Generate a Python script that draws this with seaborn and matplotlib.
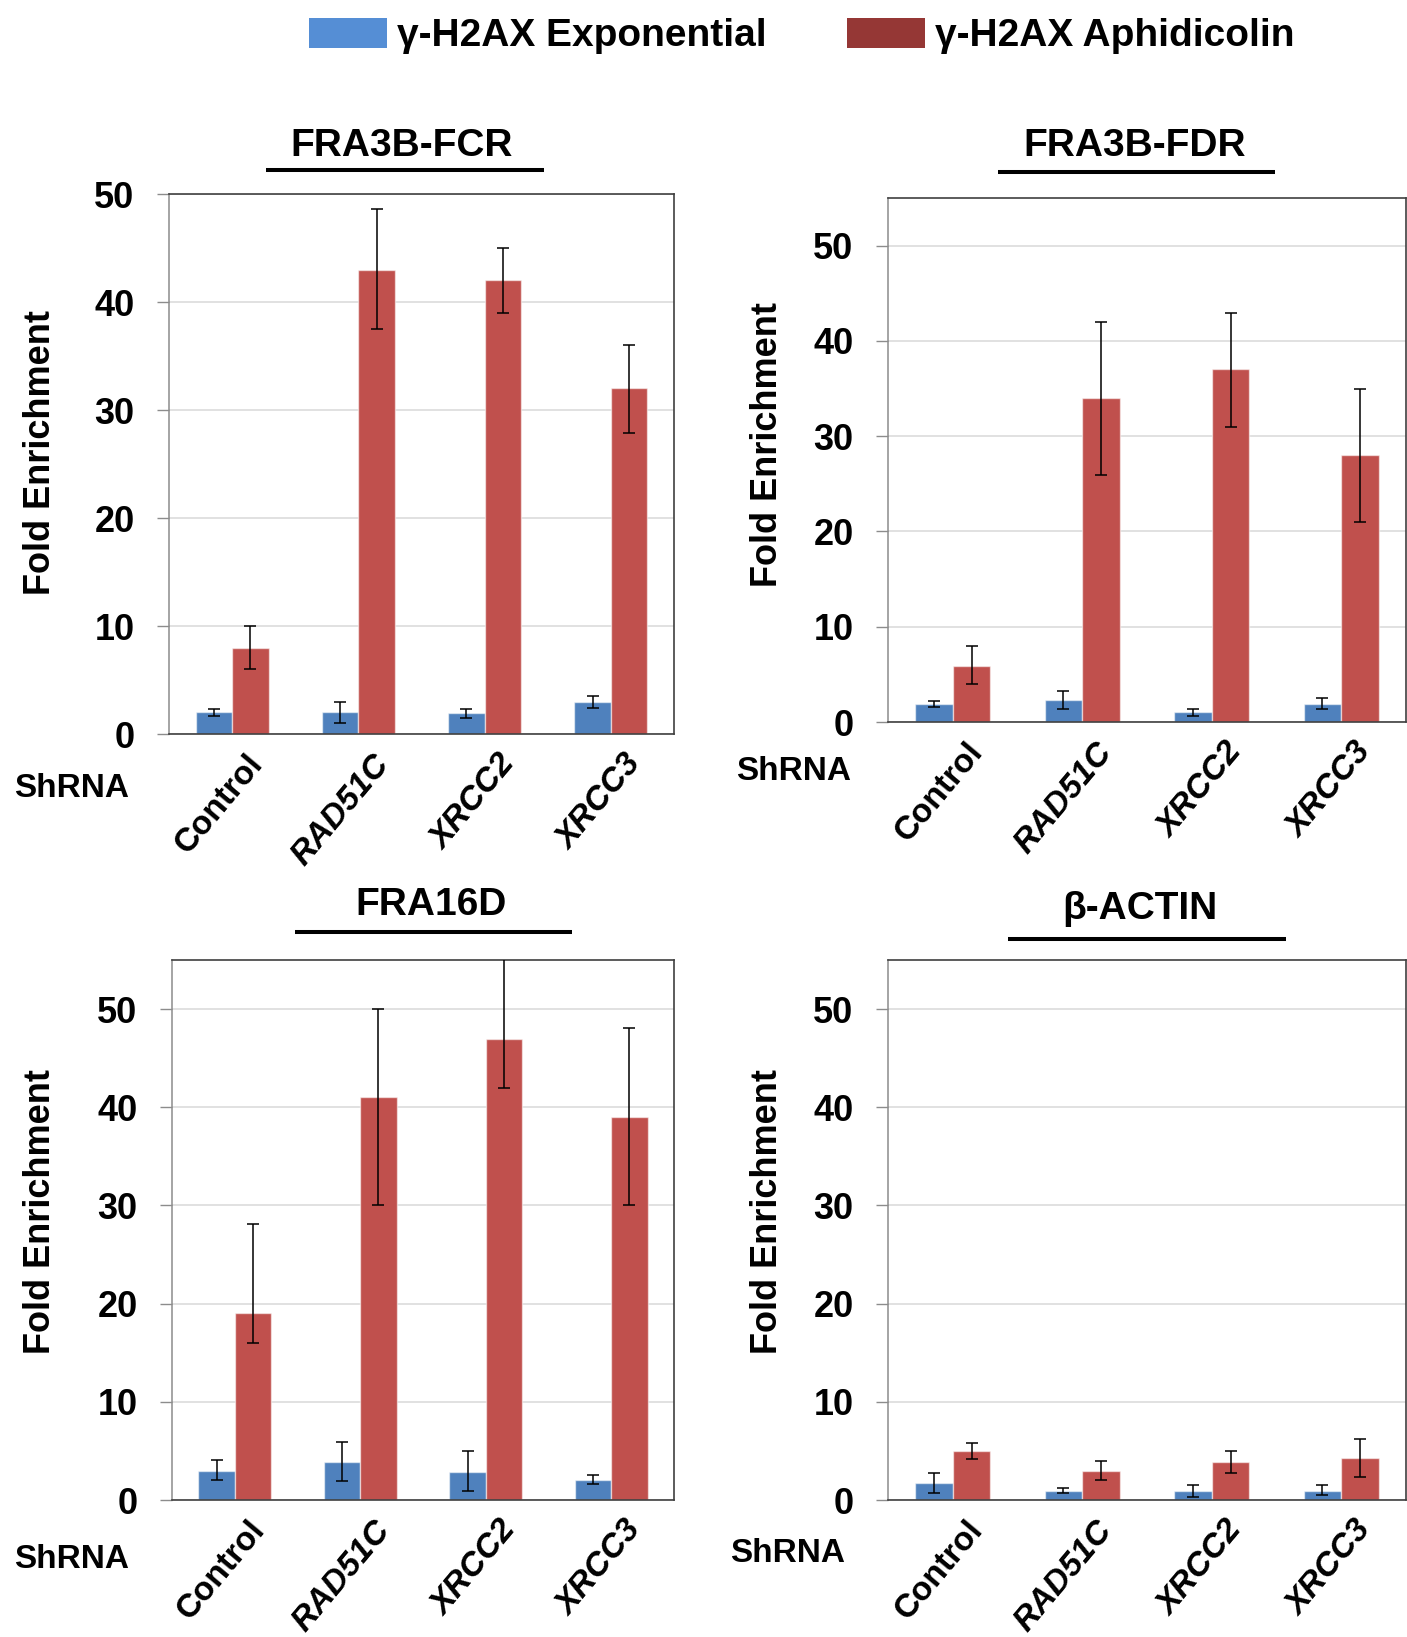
import numpy as np
import pandas as pd
import matplotlib
matplotlib.use("Agg")
import matplotlib.pyplot as plt
import matplotlib.transforms as mtransforms
from matplotlib import font_manager
from matplotlib.patches import Patch
from matplotlib.lines import Line2D
import seaborn as sns

# ---- data -------------------------------------------------------------
shrna = ["Control", "RAD51C", "XRCC2", "XRCC3"]
conditions = ["γ-H2AX Exponential", "γ-H2AX Aphidicolin"]

# FRA3B-FCR
fcr_exp = [2.0, 2.0, 1.9, 3.0]
fcr_exp_lo = [0.3, 1.0, 0.4, 0.55]
fcr_exp_hi = [0.3, 0.95, 0.45, 0.5]
fcr_aph = [8.0, 43.0, 42.0, 32.0]
fcr_aph_lo = [2.0, 5.5, 3.0, 4.1]
fcr_aph_hi = [2.0, 5.6, 3.0, 4.0]

# FRA3B-FDR
fdr_exp = [1.9, 2.3, 1.0, 1.9]
fdr_exp_lo = [0.3, 0.9, 0.4, 0.5]
fdr_exp_hi = [0.3, 1.0, 0.4, 0.6]
fdr_aph = [5.9, 34.0, 37.0, 28.0]
fdr_aph_lo = [1.9, 8.1, 6.0, 7.0]
fdr_aph_hi = [2.1, 8.0, 5.9, 7.0]

# FRA16D
f16_exp = [3.0, 3.9, 2.9, 2.0]
f16_exp_lo = [0.95, 2.0, 2.0, 0.4]
f16_exp_hi = [1.05, 2.0, 2.1, 0.5]
f16_aph = [19.0, 41.0, 47.0, 39.0]
f16_aph_lo = [3.0, 11.0, 5.0, 9.0]
f16_aph_hi = [9.1, 9.0, 9.0, 9.1]

# beta-actin
act_exp = [1.7, 0.9, 0.9, 0.9]
act_exp_lo = [0.95, 0.2, 0.55, 0.4]
act_exp_hi = [1.0, 0.35, 0.6, 0.6]
act_aph = [5.0, 3.0, 3.9, 4.3]
act_aph_lo = [0.85, 1.0, 1.1, 2.0]
act_aph_hi = [0.85, 1.0, 1.1, 1.9]

titles = ["FRA3B-FCR", "FRA3B-FDR", "FRA16D", "β-ACTIN"]
y_tops = [50, 55, 55, 55]
y_ticks = [0, 10, 20, 30, 40, 50]

bar_colors = ["#4F81BD", "#C0504D"]
legend_colors = ["#558ED5", "#953735"]

panels = [
    (fcr_exp, fcr_exp_lo, fcr_exp_hi, fcr_aph, fcr_aph_lo, fcr_aph_hi),
    (fdr_exp, fdr_exp_lo, fdr_exp_hi, fdr_aph, fdr_aph_lo, fdr_aph_hi),
    (f16_exp, f16_exp_lo, f16_exp_hi, f16_aph, f16_aph_lo, f16_aph_hi),
    (act_exp, act_exp_lo, act_exp_hi, act_aph, act_aph_lo, act_aph_hi),
]

# ---- style ------------------------------------------------------------
sns.set_theme(style="white")
installed = {f.name for f in font_manager.fontManager.ttflist}
if "Liberation Sans Narrow" in installed:
    families = ["Liberation Sans Narrow", "Liberation Sans", "DejaVu Sans"]
    fs = 1.22          # narrow face: larger size for the same text width
else:
    families = ["Liberation Sans", "DejaVu Sans"]
    fs = 1.0
plt.rcParams["font.family"] = families
plt.rcParams["font.weight"] = "bold"
for key in ["text.color", "axes.labelcolor", "xtick.color", "ytick.color"]:
    plt.rcParams[key] = "black"

W, H = 1407, 1637
DPI = 100
fig = plt.figure(figsize=(W / DPI, H / DPI), dpi=DPI)

# axes rectangles in pixels: left, top, right, bottom
rects = [
    (169, 194, 674, 734),
    (888, 198, 1406, 722),
    (172, 960, 674, 1500),
    (888, 960, 1406, 1500),
]
title_pos = [(0.461, 1.089), (0.476, 1.100), (0.516, 1.101), (0.486, 1.095)]
rule_pos = [(0.192, 0.743, 1.0445), (0.212, 0.748, 1.050),
            (0.245, 0.796, 1.052), (0.232, 0.768, 1.039)]
ylabel_pos = [(-0.220, 0.521), (-0.199, 0.530), (-0.228, 0.534), (-0.199, 0.534)]
shrna_pos = [(72, 788), (794, 772), (72, 1560), (788, 1553)]

for i, (vals, rect) in enumerate(zip(panels, rects)):
    exp, exp_lo, exp_hi, aph, aph_lo, aph_hi = vals
    l, t, r, b = rect
    ax = fig.add_axes([l / W, 1 - b / H, (r - l) / W, (b - t) / H])

    df = pd.DataFrame({
        "shRNA": shrna * 2,
        "condition": [conditions[0]] * 4 + [conditions[1]] * 4,
        "value": list(exp) + list(aph),
    })
    sns.barplot(data=df, x="shRNA", y="value", hue="condition",
                order=shrna, hue_order=conditions, palette=bar_colors,
                saturation=1, width=0.58, gap=0, errorbar=None, legend=False,
                edgecolor=(1, 1, 1, 0.55), linewidth=1.0, ax=ax, zorder=2)

    # error bars on top of each bar
    for cont, lo, hi in zip(ax.containers, [exp_lo, aph_lo], [exp_hi, aph_hi]):
        xs = [p.get_x() + p.get_width() / 2 for p in cont]
        ys = [p.get_height() for p in cont]
        ax.errorbar(xs, ys, yerr=[lo, hi], fmt="none", ecolor="black",
                    elinewidth=1.1, capsize=4.3, capthick=1.1, zorder=5)

    ax.set_xlim(-0.5, 3.5)
    ax.set_ylim(0, y_tops[i])
    ax.set_yticks(y_ticks)
    ax.set_yticklabels([str(v) for v in y_ticks], fontsize=26 * fs,
                       fontweight="bold")
    ax.yaxis.grid(True, color="#D9D9D9", linewidth=1.1)
    ax.xaxis.grid(False)
    ax.set_axisbelow(True)

    ax.tick_params(axis="y", direction="out", length=8.3, width=1.0,
                   color="#8C8C8C", pad=16.5, left=True)
    ax.tick_params(axis="x", length=0, pad=18)

    ax.set_xticks(range(len(shrna)))
    ax.set_xticklabels(shrna, rotation=50, ha="right", va="center",
                       rotation_mode="anchor", fontsize=24 * fs,
                       fontweight="bold")
    shift = mtransforms.ScaledTranslation(0.25, 0, fig.dpi_scale_trans)
    for k, lab in enumerate(ax.get_xticklabels()):
        if k > 0:
            lab.set_fontstyle("italic")
        lab.set_transform(lab.get_transform() + shift)

    for side in ["top", "right", "bottom"]:
        ax.spines[side].set_visible(True)
        ax.spines[side].set_color("#404040")
        ax.spines[side].set_linewidth(1.2)
    ax.spines["left"].set_color("#8C8C8C")
    ax.spines["left"].set_linewidth(1.1)

    ax.set_xlabel("")
    ax.set_ylabel("Fold Enrichment", fontsize=26 * fs, fontweight="bold")
    ax.yaxis.set_label_coords(*ylabel_pos[i])

    tx, ty = title_pos[i]
    ax.text(tx, ty, titles[i], transform=ax.transAxes, ha="center",
            va="center", fontsize=28 * fs, fontweight="bold")
    x0, x1, yr = rule_pos[i]
    ax.add_line(Line2D([x0, x1], [yr, yr], transform=ax.transAxes,
                       color="black", linewidth=2.9, solid_capstyle="butt",
                       clip_on=False))

    sx, sy = shrna_pos[i]
    fig.text(sx / W, 1 - sy / H, "ShRNA", ha="center", va="center",
             fontsize=24 * fs, fontweight="bold")

# legend sized in pixels relative to its font size
leg_size = 28 * fs
em = leg_size * DPI / 72
handles = [Patch(facecolor=c, edgecolor="none") for c in legend_colors]
fig.legend(handles, conditions, loc="center", bbox_to_anchor=(0.570, 0.978),
           ncol=2, frameon=False, handlelength=78 / em,
           handleheight=31 / em, handletextpad=10 / em, columnspacing=80 / em,
           prop={"weight": "bold", "size": leg_size})

fig.savefig("out.png", dpi=DPI)
